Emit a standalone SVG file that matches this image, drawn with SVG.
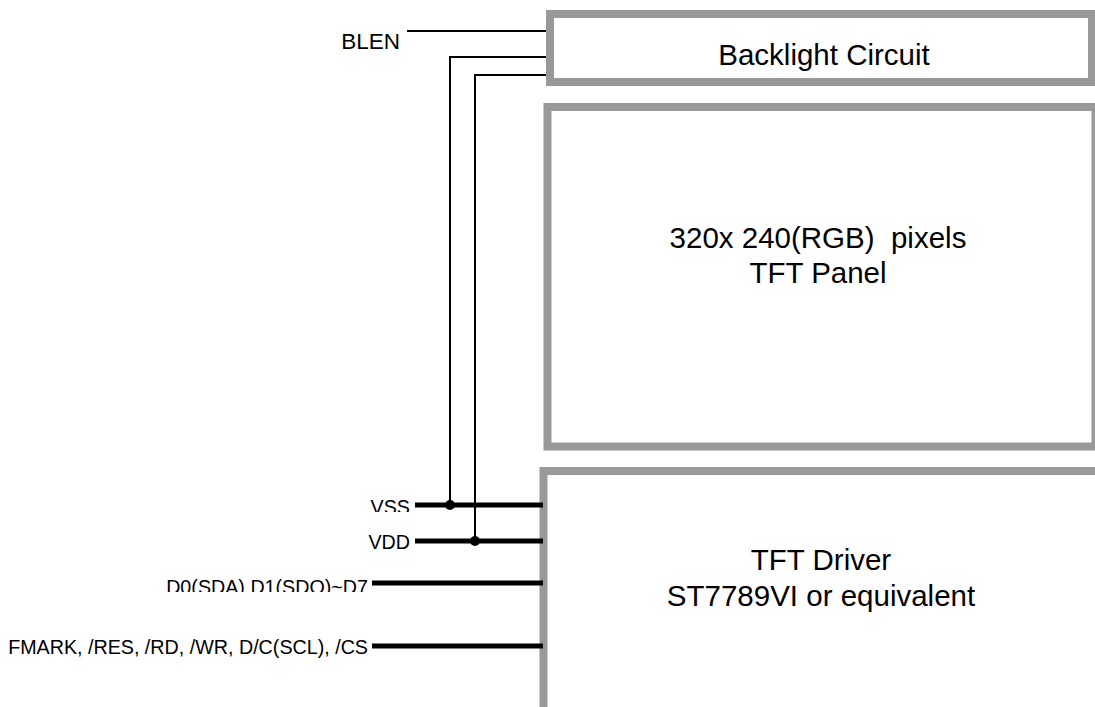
<svg xmlns="http://www.w3.org/2000/svg" width="1095" height="707" viewBox="0 0 1095 707">
<style>
.box{fill:#fff;stroke:#999;stroke-width:8}
.lbl{font-family:"Liberation Sans",Arial,sans-serif;font-size:29.5px;fill:#000;text-anchor:middle}
.pin{font-family:"Liberation Sans",Arial,sans-serif;font-size:19.7px;fill:#000;text-anchor:end}
.thin{stroke:#000;stroke-width:2;fill:none}
.bus{stroke:#000;stroke-width:5;fill:none}
</style>
<defs>
<clipPath id="cVSS"><rect x="300" y="480" width="120" height="32"/></clipPath>
<clipPath id="cD0"><rect x="100" y="560" width="280" height="32"/></clipPath>
</defs>
<rect width="1095" height="707" fill="#fff"/>
<g id="backlight">
<rect class="box" x="550" y="14" width="542" height="68"/>
<text class="lbl" x="824" y="65">Backlight Circuit</text>
</g>
<g id="panel">
<rect class="box" x="547.5" y="107" width="548" height="339.5"/>
<text class="lbl" x="818" y="248" xml:space="preserve">320x 240(RGB)  pixels</text>
<text class="lbl" x="818" y="283">TFT Panel</text>
</g>
<g id="driver">
<rect class="box" x="543.5" y="471" width="556" height="240"/>
<text class="lbl" x="821" y="570">TFT Driver</text>
<text class="lbl" x="821" y="606">ST7789VI or equivalent</text>
</g>
<g id="labels">
<text class="pin" x="400" y="49" style="font-size:22.5px">BLEN</text>
<text class="pin" x="410" y="514" clip-path="url(#cVSS)">VSS</text>
<text class="pin" x="410" y="549">VDD</text>
<text class="pin" x="368" y="594" clip-path="url(#cD0)">D0(SDA) D1(SDO)~D7</text>
<text class="pin" x="368" y="654">FMARK, /RES, /RD, /WR, D/C(SCL), /CS</text>
</g>
<g id="connectors">
<line class="thin" x1="407" y1="31" x2="546" y2="31"/>
<polyline class="thin" points="546,57 450,57 450,505"/>
<polyline class="thin" points="546,75 475,75 475,541"/>
<line class="bus" x1="415" y1="505" x2="543" y2="505"/>
<line class="bus" x1="415" y1="541" x2="543" y2="541"/>
<line class="bus" x1="372" y1="583" x2="543" y2="583"/>
<line class="bus" x1="372" y1="646" x2="543" y2="646"/>
<circle cx="450" cy="505" r="5" fill="#000"/>
<circle cx="475" cy="541" r="5" fill="#000"/>
</g>
</svg>
